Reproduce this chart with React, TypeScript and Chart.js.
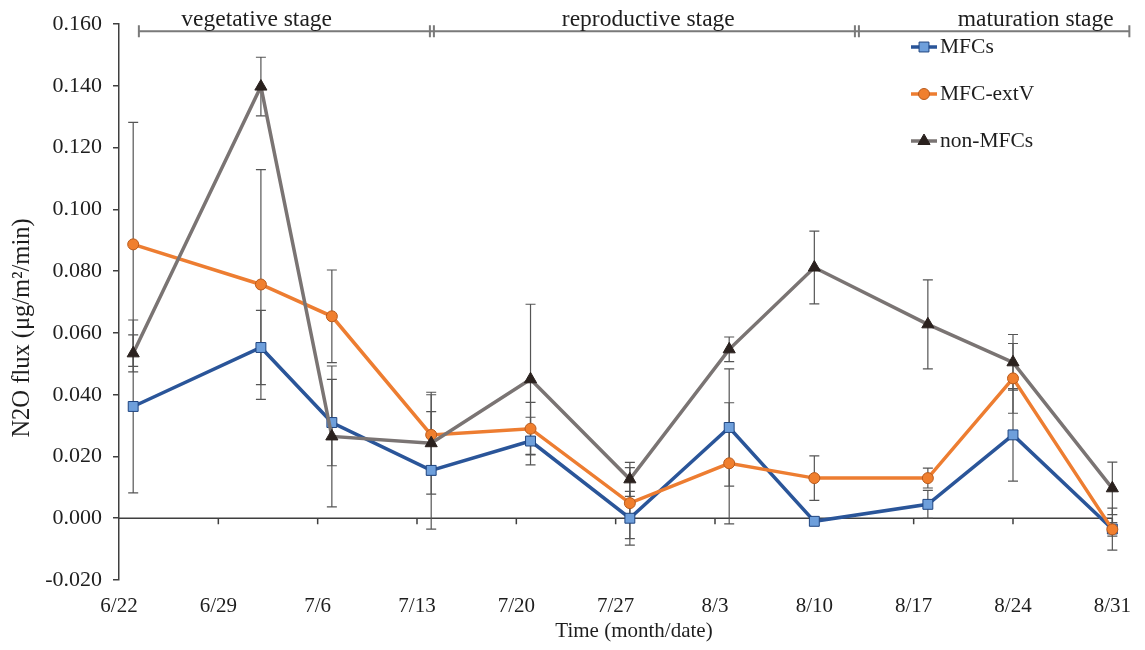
import React, { useEffect, useRef } from 'react';
import { Chart, registerables } from 'chart.js';
import { drawPoint } from 'chart.js/helpers';

Chart.register(...registerables);

const tickLabels = ['6/22', '6/29', '7/6', '7/13', '7/20', '7/27', '8/3', '8/10', '8/17', '8/24', '8/31'];
const sampleDays = [1, 10, 15, 22, 29, 36, 43, 49, 57, 63, 70];
const mfcs = [0.0362, 0.0553, 0.031, 0.0155, 0.025, 0.0, 0.0294, -0.001, 0.0045, 0.027, -0.0035];
const mfcsErr = [0.028, 0.012, 0.014, 0.019, 0.0077, 0.0087, 0.019, 0, 0.0045, 0.015, 0.0068];
const extV = [0.0887, 0.0757, 0.0654, 0.027, 0.029, 0.0049, 0.0178, 0.013, 0.013, 0.0453, -0.0036];
const extVErr = [0.0395, 0.0372, 0.015, 0.013, 0.0085, 0.0115, 0.0196, 0.0072, 0.0032, 0.0113, 0.0022];
const nonMfcs = [0.0534, 0.1398, 0.0265, 0.0243, 0.045, 0.0126, 0.0547, 0.0812, 0.0628, 0.0505, 0.0097];
const nonMfcsErr = [0.006, 0.0095, 0.0228, 0.0165, 0.0243, 0.0055, 0.004, 0.0118, 0.0144, 0.009, 0.0085];
const seriesNames = ['MFCs', 'MFC-extV', 'non-MFCs'];
const stageNames = ['vegetative stage', 'reproductive stage', 'maturation stage'];

const FONT = '"Liberation Serif", "Times New Roman", serif';
const TEXT = '#1e1e1e';
const AXIS = '#3f3f3f';

const errorSets = [mfcsErr, extVErr, nonMfcsErr];

const toPts = (vals: number[]) => vals.map((v, i) => ({ x: sampleDays[i], y: v }));

const axesPlugin = {
  id: 'zeroAxis',
  beforeDatasetsDraw(chart: any) {
    const { ctx, scales } = chart;
    const xs = scales.x;
    const ys = scales.y;
    const y0 = ys.getPixelForValue(0);
    ctx.save();
    ctx.strokeStyle = AXIS;
    ctx.lineWidth = 1.5;
    ctx.beginPath();
    ctx.moveTo(xs.left, y0);
    ctx.lineTo(xs.right, y0);
    xs.ticks.forEach((t: any) => {
      const x = xs.getPixelForValue(t.value);
      if (t.value === 0) return;
      ctx.moveTo(x, y0);
      ctx.lineTo(x, y0 + 6);
    });
    ctx.stroke();

    // error bars
    ctx.strokeStyle = '#555';
    ctx.lineWidth = 1.2;
    chart.data.datasets.forEach((ds: any, i: number) => {
      const errs = errorSets[i];
      ds.data.forEach((p: any, j: number) => {
        const e = errs[j];
        if (!e) return;
        const x = xs.getPixelForValue(p.x);
        const y1 = ys.getPixelForValue(p.y + e);
        const y2 = ys.getPixelForValue(p.y - e);
        ctx.beginPath();
        ctx.moveTo(x, y1);
        ctx.lineTo(x, y2);
        ctx.moveTo(x - 5, y1);
        ctx.lineTo(x + 5, y1);
        ctx.moveTo(x - 5, y2);
        ctx.lineTo(x + 5, y2);
        ctx.stroke();
      });
    });
    ctx.restore();
  },
  afterDraw(chart: any) {
    const { ctx, scales, chartArea } = chart;
    const xs = scales.x;
    ctx.save();
    // axis titles
    ctx.fillStyle = TEXT;
    ctx.textAlign = 'center';
    ctx.textBaseline = 'middle';
    ctx.font = `21px ${FONT}`;
    ctx.fillText('Time (month/date)', 634, 631);
    ctx.save();
    ctx.translate(23, 328);
    ctx.rotate(-Math.PI / 2);
    ctx.font = `24.5px ${FONT}`;
    ctx.fillText('N2O flux (μg/m²/min)', 0, 0);
    ctx.restore();

    // stage annotation
    const ly = chartArea.top + 7;
    const bounds = [1.4, 22.05, 52, 71.2].map((d) => xs.getPixelForValue(d));
    ctx.strokeStyle = '#7a7a7a';
    ctx.lineWidth = 2;
    ctx.beginPath();
    ctx.moveTo(bounds[0], ly);
    ctx.lineTo(bounds[3], ly);
    ctx.moveTo(bounds[0], ly - 6);
    ctx.lineTo(bounds[0], ly + 6);
    ctx.moveTo(bounds[3], ly - 6);
    ctx.lineTo(bounds[3], ly + 6);
    [bounds[1], bounds[2]].forEach((bx) => {
      ctx.moveTo(bx - 2, ly - 6);
      ctx.lineTo(bx - 2, ly + 6);
      ctx.moveTo(bx + 2, ly - 6);
      ctx.lineTo(bx + 2, ly + 6);
    });
    ctx.stroke();
    ctx.font = `23.5px ${FONT}`;
    ctx.textBaseline = 'alphabetic';
    const centers = [9.7, 37.3, 64.6].map((d) => xs.getPixelForValue(d));
    stageNames.forEach((s, i) => ctx.fillText(s, centers[i], ly - 5));

    // legend
    ctx.textAlign = 'left';
    ctx.textBaseline = 'middle';
    chart.data.datasets.forEach((ds: any, i: number) => {
      const y = 47 + 47 * i;
      ctx.strokeStyle = ds.borderColor;
      ctx.lineWidth = 3.5;
      ctx.beginPath();
      ctx.moveTo(911, y);
      ctx.lineTo(937, y);
      ctx.stroke();
      ctx.fillStyle = ds.pointBackgroundColor;
      ctx.strokeStyle = ds.pointBorderColor;
      ctx.lineWidth = 1;
      drawPoint(ctx, { pointStyle: ds.pointStyle, radius: ds.pointRadius, rotation: 0, borderWidth: 1 }, 924, y);
      ctx.fillStyle = TEXT;
      ctx.font = `21.5px ${FONT}`;
      ctx.fillText(seriesNames[i], 940, y);
    });
    ctx.restore();
  },
};

export default function App() {
  const ref = useRef<HTMLCanvasElement | null>(null);
  useEffect(() => {
    if (!ref.current) return;
    const chart = new Chart(ref.current, {
      type: 'line',
      data: {
        datasets: [
          {
            label: seriesNames[0],
            data: toPts(mfcs),
            borderColor: '#2A5599',
            backgroundColor: '#6E9FDB',
            pointBackgroundColor: '#6E9FDB',
            pointBorderColor: '#1F4580',
            pointStyle: 'rect',
            pointRadius: 7,
            pointBorderWidth: 1,
            borderWidth: 3.5,
            order: 3,
            clip: false,
          } as any,
          {
            label: seriesNames[1],
            data: toPts(extV),
            borderColor: '#ED7D31',
            backgroundColor: '#F07F2E',
            pointBackgroundColor: '#F07F2E',
            pointBorderColor: '#B85A1C',
            pointStyle: 'circle',
            pointRadius: 5.5,
            pointBorderWidth: 1,
            borderWidth: 3.5,
            order: 2,
            clip: false,
          },
          {
            label: seriesNames[2],
            data: toPts(nonMfcs),
            borderColor: '#7A7473',
            backgroundColor: '#2A211E',
            pointBackgroundColor: '#2A211E',
            pointBorderColor: '#2A211E',
            pointStyle: 'triangle',
            pointRadius: 7,
            pointBorderWidth: 1,
            borderWidth: 3.5,
            order: 1,
            clip: false,
          },
        ],
      },
      options: {
        responsive: false,
        animation: false,
        devicePixelRatio: 1,
        layout: { padding: { left: 0, right: 26, top: 24, bottom: 0 } },
        plugins: { legend: { display: false }, tooltip: { enabled: false } },
        scales: {
          x: {
            type: 'linear',
            min: 0,
            max: 70,
            afterFit: (s: any) => {
              s.height = 70;
            },
            afterBuildTicks: (s: any) => {
              s.ticks = tickLabels.map((_, i) => ({ value: i * 7 }));
            },
            grid: { display: false, drawTicks: false },
            border: { display: false },
            ticks: {
              autoSkip: false,
              maxRotation: 0,
              padding: 14,
              color: TEXT,
              font: { family: FONT, size: 21 },
              callback: (v: any) => tickLabels[Math.round(Number(v) / 7)] ?? '',
            },
          },
          y: {
            min: -0.02,
            max: 0.16,
            afterFit: (s: any) => {
              s.width = 119;
            },
            grid: { display: true, drawOnChartArea: false, drawTicks: true, tickLength: 6, color: AXIS, lineWidth: 1.5 },
            border: { display: true, color: AXIS, width: 1.5 },
            ticks: {
              stepSize: 0.02,
              padding: 11,
              color: TEXT,
              font: { family: FONT, size: 22 },
              callback: (v: any) => Number(v).toFixed(3),
            },
          },
        },
      },
      plugins: [axesPlugin],
    });
    return () => chart.destroy();
  }, []);
  return (
    <div style={{ position: 'absolute', left: 0, top: 0, width: 1145, height: 650, background: '#fff' }}>
      <canvas ref={ref} width={1145} height={650} style={{ width: 1145, height: 650, display: 'block' }} />
    </div>
  );
}
